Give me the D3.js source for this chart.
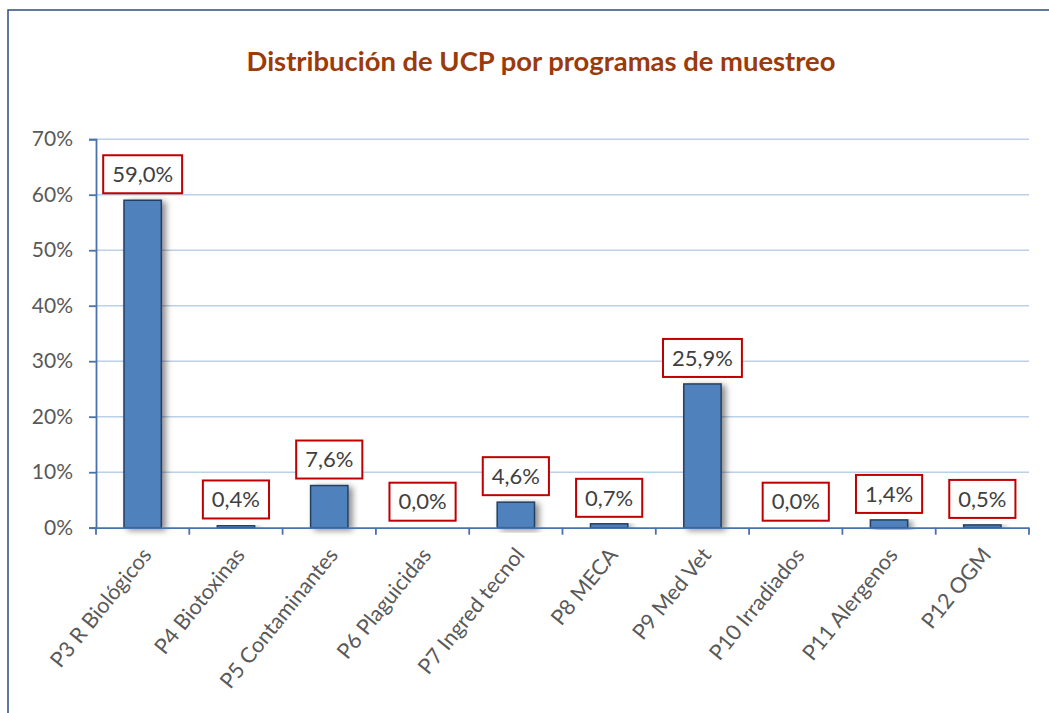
<!DOCTYPE html>
<html><head><meta charset="utf-8">
<script src="https://cdn.jsdelivr.net/npm/d3@7"></script>
<style>
html,body{margin:0;padding:0;background:#fff;}
svg{display:block;}
</style></head>
<body>
<script>
const title = "Distribución de UCP por programas de muestreo";
const categories = ["P3 R Biológicos","P4 Biotoxinas","P5 Contaminantes","P6 Plaguicidas","P7 Ingred tecnol","P8 MECA","P9 Med Vet","P10 Irradiados","P11 Alergenos","P12 OGM"];
const values = [0.590, 0.004, 0.076, 0.000, 0.046, 0.007, 0.259, 0.000, 0.014, 0.005];
const labels = ["59,0%","0,4%","7,6%","0,0%","4,6%","0,7%","25,9%","0,0%","1,4%","0,5%"];
const yTicks = [0,0.1,0.2,0.3,0.4,0.5,0.6,0.7];
const yTickLabels = ["0%","10%","20%","30%","40%","50%","60%","70%"];

const W = 1049, H = 713;
const FONT = "Lato, 'Open Sans', sans-serif";
const svg = d3.select("body").append("svg").attr("width", W).attr("height", H);

const defs = svg.append("defs");
const f = defs.append("filter").attr("id","shadow").attr("x","-30%").attr("y","-10%").attr("width","180%").attr("height","130%");
f.append("feDropShadow").attr("dx",4).attr("dy",2).attr("stdDeviation",3).attr("flood-color","#000").attr("flood-opacity",0.45);

// chart frame
svg.append("rect").attr("x",8).attr("y",10).attr("width",W+20).attr("height",H+20)
  .attr("fill","#fff").attr("stroke","#2e4d7b").attr("stroke-width",1.5);

const x = d3.scaleBand().domain(categories).range([96, 1029]).paddingInner(0.6).paddingOuter(0.3);
const y = d3.scaleLinear().domain([0, 0.7]).range([527.7, 139.2]);

// title
svg.append("text").attr("x", 541).attr("y", 71).attr("text-anchor","middle")
  .attr("font-family", FONT).attr("font-weight","bold").attr("font-size", 27.4)
  .attr("fill","#9b3a0a").text(title);

// gridlines
svg.append("g").selectAll("line").data(yTicks.slice(1)).join("line")
  .attr("x1", 96).attr("x2", 1029).attr("y1", d=>y(d)).attr("y2", d=>y(d))
  .attr("stroke","#bcd0e8").attr("stroke-width",1.5);

// y axis
const yAxis = d3.axisLeft(y).tickValues(yTicks).tickFormat((d,i)=>yTickLabels[i]).tickSize(7).tickPadding(16);
const gy = svg.append("g").attr("transform","translate(96,0)").call(yAxis);
gy.select(".domain").attr("stroke","#4a72a8").attr("stroke-width",1.8);
gy.selectAll(".tick line").attr("stroke","#4a72a8").attr("stroke-width",1.8);
gy.selectAll(".tick text").attr("font-family",FONT).attr("font-size",21).attr("fill","#595959");

// bars
svg.append("g").selectAll("rect").data(values).join("rect")
  .attr("x",(d,i)=>x(categories[i])).attr("width",x.bandwidth())
  .attr("y",d=>y(d)).attr("height",d=>y(0)-y(d))
  .attr("fill","#4f81bd").attr("stroke","#243f60").attr("stroke-width",1.5)
  .attr("filter","url(#shadow)");

// x axis
const xAxis = d3.axisBottom(x).tickSize(0).tickFormat("");
const gx = svg.append("g").attr("transform",`translate(0,${y(0)})`).call(xAxis);
gx.select(".domain").attr("stroke","#4a72a8").attr("stroke-width",1.8);
const step = x.step();
const boundaries = d3.range(categories.length+1).map(i=>96 + i*step);
svg.append("g").selectAll("line").data(boundaries).join("line")
  .attr("x1",d=>d).attr("x2",d=>d).attr("y1",y(0)).attr("y2",y(0)+7)
  .attr("stroke","#4a72a8").attr("stroke-width",1.8);

// x labels
svg.append("g").selectAll("text").data(categories).join("text")
  .attr("transform",d=>`translate(${x(d)+x.bandwidth()/2+4},${y(0)+23}) rotate(-51)`)
  .attr("text-anchor","end").attr("dy","0.35em")
  .attr("font-family",FONT).attr("font-size",21.5).attr("fill","#595959").text(d=>d);

// data labels
const lg = svg.append("g").selectAll("g").data(values).join("g");
lg.each(function(d,i){
  const g = d3.select(this);
  const cx = x(categories[i]) + x.bandwidth()/2;
  const bottom = y(d) - 7;
  const t = g.append("text").attr("x",cx).attr("y",bottom-19).attr("text-anchor","middle")
    .attr("dy","0.35em").attr("font-family",FONT).attr("font-size",22).attr("fill","#404040").text(labels[i]);
  const bw = t.node().getComputedTextLength() + 18;
  g.insert("rect","text").attr("x",cx-bw/2).attr("y",bottom-38).attr("width",bw).attr("height",38)
    .attr("fill","#fff").attr("stroke","#c00000").attr("stroke-width",2);
});
</script>
</body></html>
